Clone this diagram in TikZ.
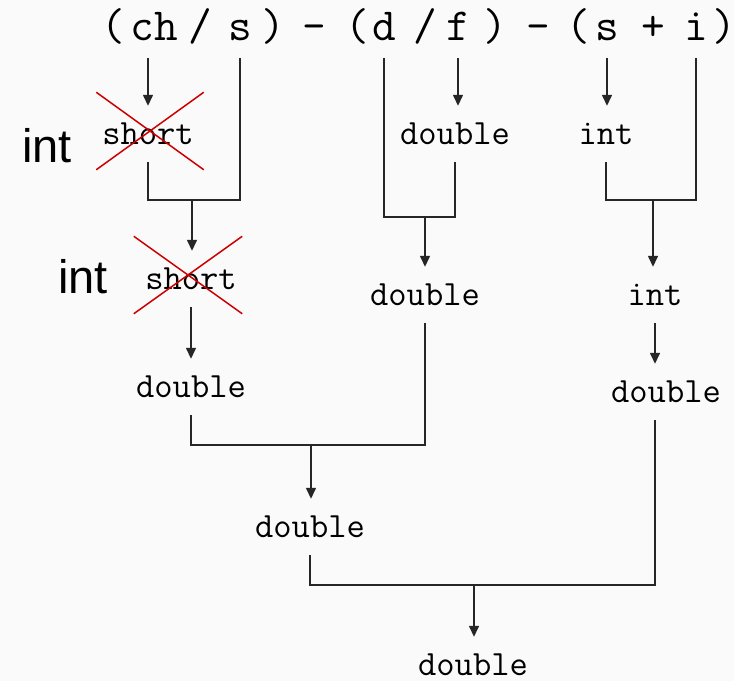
\documentclass[tikz,border=0pt]{standalone}
\usepackage{fontspec}
\setsansfont{Liberation Sans}
\usepackage{xcolor}
\usetikzlibrary{arrows.meta,shapes.misc}

\definecolor{xred}{RGB}{205,0,0}
\definecolor{bgcol}{RGB}{250,250,250}

\begin{document}
\begin{tikzpicture}[x=1pt, y=-1pt,
  >={Triangle[length=11pt,width=10pt]},
  tok/.style ={font=\fontsize{46}{46}\selectfont\ttfamily, anchor=base,
               inner xsep=0pt, inner ysep=18pt, text depth=0pt},
  typ/.style ={font=\fontsize{35.5}{35.5}\selectfont\ttfamily, anchor=base,
               inner xsep=0pt, inner ysep=18pt, text height=20pt, text depth=0pt},
  lab/.style ={font=\fontsize{47}{47}\selectfont\sffamily, anchor=base, inner sep=0pt},
  xmark/.style={draw=xred, cross out, line width=1.5pt, inner sep=0pt},
  wire/.style={line width=1.4pt, draw=black!85},
  arr/.style ={->, line width=1.4pt, draw=black!85, fill=black!85}]

  \fill[bgcol] (0,0) rectangle (734,681);
  \useasboundingbox (0,0) rectangle (734,681);

  % --- expression --------------------------------------------------------
  \node[tok] (lpA)  at (113,40) {(};
  \node[tok] (ch)   at (154,40) {ch};
  \node[tok] (slA)  at (200,40) {/};
  \node[tok] (sA)   at (240,40) {s};
  \node[tok] (rpA)  at (273,40) {)};
  \node[tok] (miA)  at (314,40) {-};
  \node[tok] (lpB)  at (357,40) {(};
  \node[tok] (d)    at (384,40) {d};
  \node[tok] (slB)  at (425,40) {/};
  \node[tok] (f)    at (458,40) {f};
  \node[tok] (rpB)  at (495,40) {)};
  \node[tok] (miB)  at (538,40) {-};
  \node[tok] (lpC)  at (578,40) {(};
  \node[tok] (sB)   at (607,40) {s};
  \node[tok] (plus) at (653,40) {+};
  \node[tok] (i)    at (696,40) {i};
  \node[tok] (rpC)  at (724,40) {)};

  % --- types -------------------------------------------------------------
  \node[typ] (sh1)  at (148,144) {short};
  \node[typ] (dbl1) at (455,144) {double};
  \node[typ] (int1) at (606,144) {int};
  \node[typ] (sh2)  at (191,289) {short};
  \node[typ] (dbl2) at (425,305) {double};
  \node[typ] (int2) at (655,305) {int};
  \node[typ] (dbl3) at (191,397) {double};
  \node[typ] (dbl4) at (666,402) {double};
  \node[typ] (dbl5) at (310,537) {double};
  \node[typ] (dbl6) at (473,675) {double};

  % promotions
  \node[xmark, minimum width=106, minimum height=76] (xA) at (150,131) {};
  \node[xmark, minimum width=107, minimum height=76] (xB) at (188,275) {};
  \node[lab] (intA) at (47,162) {int};
  \node[lab] (intB) at (83,293) {int};

  % --- junctions ---------------------------------------------------------
  \coordinate (j1) at (192,200);
  \coordinate (j2) at (425,217);
  \coordinate (j3) at (653,200);
  \coordinate (j4) at (311,445);
  \coordinate (j5) at (474,585);

  % --- edges -------------------------------------------------------------
  \draw[arr] (ch.south -| sh1) -- (sh1.north);
  \draw[arr] (f.south) -- (f.south |- dbl1.north);
  \draw[arr] (sB.south) -- (sB.south |- int1.north);
  \draw[wire] (sh1.south) |- (j1) -| (sA.south);
  \draw[arr] (j1) -- (j1 |- sh2.north);
  \draw[wire] (d.south) |- (j2) -| (dbl1.south);
  \draw[arr] (j2) -- (j2 |- dbl2.north);
  \draw[wire] (int1.south) |- (j3) -| (i.south);
  \draw[arr] (j3) -- (j3 |- int2.north);
  \draw[arr] (sh2.south) -- (sh2.south |- dbl3.north);
  \draw[arr] (int2.south) -- (int2.south |- dbl4.north);
  \draw[wire] (dbl3.south) |- (j4) -| (dbl2.south);
  \draw[arr] (j4) -- (j4 |- dbl5.north);
  \draw[wire] (dbl5.south) |- (j5) -| (int2 |- dbl4.south);
  \draw[arr] (j5) -- (j5 |- dbl6.north);
\end{tikzpicture}
\end{document}
